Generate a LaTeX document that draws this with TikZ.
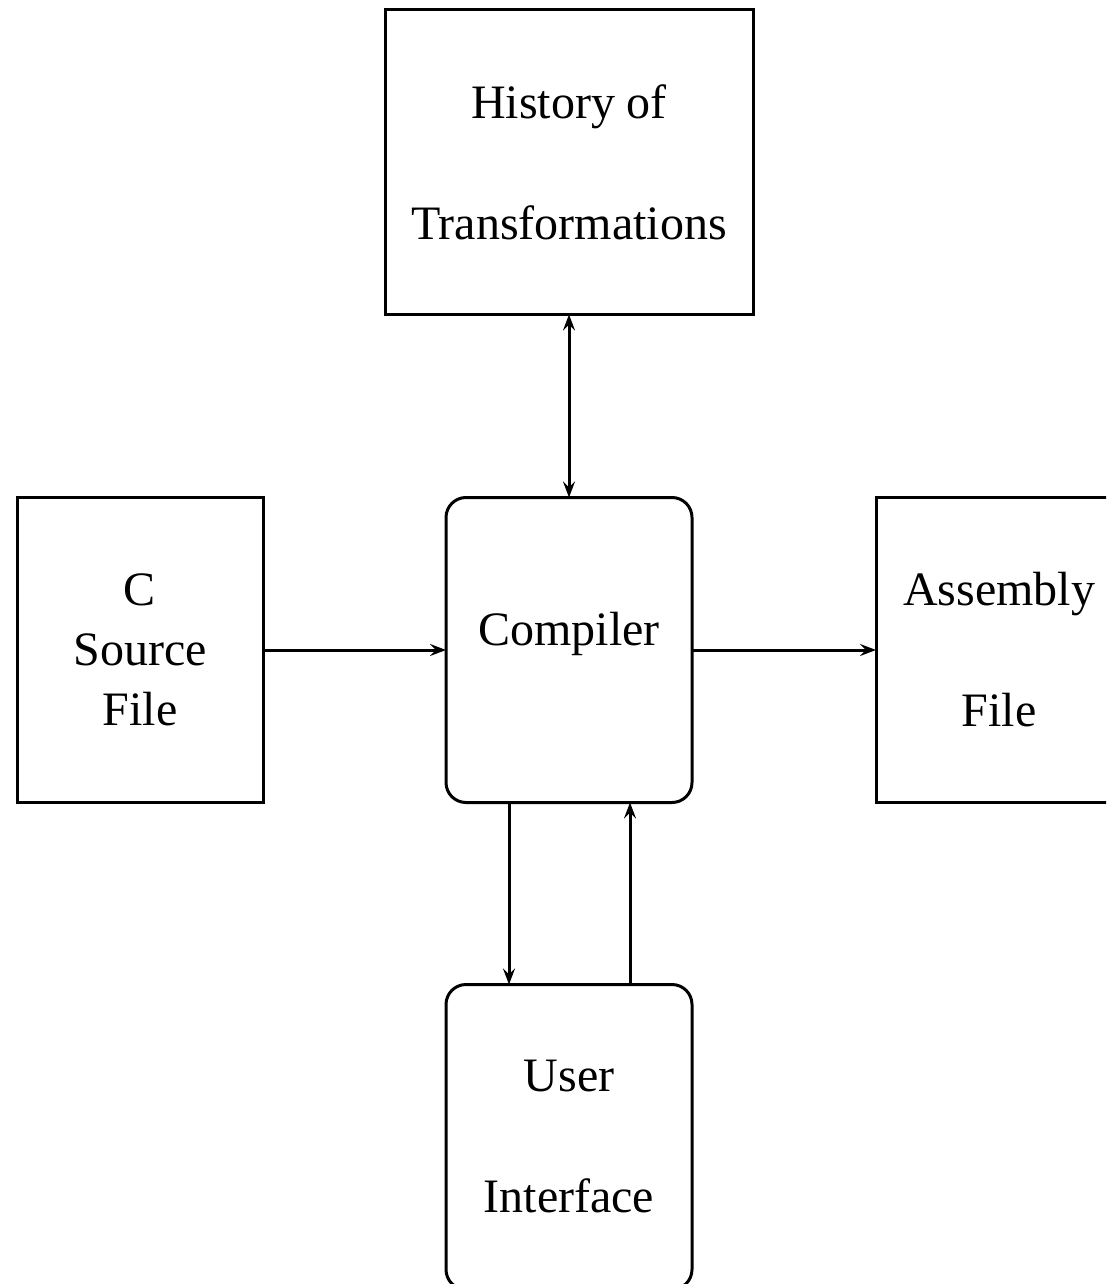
\documentclass[tikz,border=0pt]{standalone}
\usepackage{fontspec}
\setmainfont{Liberation Serif}
\usetikzlibrary{arrows.meta}
\begin{document}
\begin{tikzpicture}[x=1pt,y=-1pt,
  every node/.style={inner sep=0pt, outer sep=0pt},
  tip/.style={Stealth[length=16pt,width=12pt,inset=6pt]},
  box/.style={draw, line width=3pt, minimum width=246pt, minimum height=305pt,
    align=center, font=\fontsize{48}{121}\selectfont},
  roundbox/.style={box, rounded corners=20pt},
  link/.style={line width=3pt, -{Stealth[length=16pt,width=12pt,inset=6pt]}},
  biline/.style={line width=3pt, {Stealth[length=16pt,width=12pt,inset=6pt]}-{Stealth[length=16pt,width=12pt,inset=6pt]}}]
  \useasboundingbox (0,0) rectangle (1106,1284);
  \clip (0,0) rectangle (1106,1284);

  % boxes
  \node[box, minimum width=368pt] (hist) at (569,162) {History of\\Transformations};
  \node[box, font=\fontsize{48}{60}\selectfont] (src) at (140,650) {C\\Source\\File};
  \node[roundbox] (comp) at (569,650) {};
  \node[font=\fontsize{48}{60}\selectfont] (complabel) at (569,634) {Compiler};
  \node[box] (asm) at (999,650) {Assembly\\File};
  \node[roundbox] (ui) at (569,1137) {User\\Interface};

  % connectors
  \draw[biline] (hist.south) -- (comp.north);
  \draw[link] (src.east) -- (comp.west);
  \draw[link] (comp.east) -- (asm.west);
  \draw[link] ([xshift=-60pt]comp.south) -- ([xshift=-60pt]ui.north);
  \draw[link] ([xshift=61pt]ui.north) -- ([xshift=61pt]comp.south);
\end{tikzpicture}
\end{document}
